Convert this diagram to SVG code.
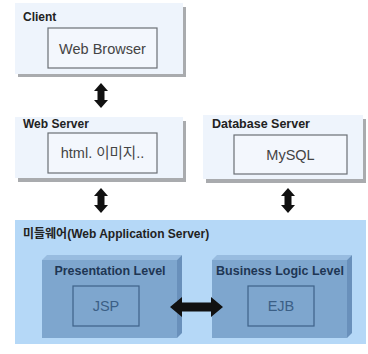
<svg xmlns="http://www.w3.org/2000/svg" width="368" height="354" viewBox="0 0 368 354">
<style>
.bg{fill:#ffffff}
.outer{fill:#eef4fc}
.shadow{fill:#a9abae}
.inner{fill:#f3f7fd;stroke:#6b6f75;stroke-width:1.2}
.lbl{font-family:"Liberation Sans","Noto Sans CJK KR",sans-serif;font-weight:bold;fill:#222;font-size:12px}
.txt{font-family:"Liberation Sans","Noto Sans CJK KR",sans-serif;fill:#444;font-size:14.5px;text-anchor:middle}
.mw{fill:#b5d8f7}
.front{fill:#7ea6ce}
.top{fill:#98bce0}
.side{fill:#6990bb}
.lvl{font-family:"Liberation Sans","Noto Sans CJK KR",sans-serif;font-weight:bold;fill:#1e3654;font-size:12.5px;text-anchor:middle}
.cbox{fill:#7ea6ce;stroke:#3e6289;stroke-width:1.2}
.ctxt{font-family:"Liberation Sans","Noto Sans CJK KR",sans-serif;fill:#3b5f86;font-size:14.5px;text-anchor:middle}
.arr{fill:#111}
</style>
<rect class="bg" x="0" y="0" width="368" height="354"/>
<g id="client">
<rect class="shadow" x="18" y="7" width="168" height="70"/>
<rect class="outer" x="15" y="3" width="168" height="71"/>
<text class="lbl" x="23" y="21">Client</text>
<rect class="inner" x="48" y="28" width="109" height="40"/>
<text class="txt" x="102.5" y="54">Web Browser</text>
</g>
<g id="webserver">
<rect class="shadow" x="18" y="121" width="168" height="61"/>
<rect class="outer" x="15" y="117" width="168" height="61"/>
<text class="lbl" x="23" y="128">Web Server</text>
<rect class="inner" x="48" y="133" width="109" height="40"/>
<text class="txt" x="102.5" y="158">html. 이미지..</text>
</g>
<g id="dbserver">
<rect class="shadow" x="206" y="119" width="160" height="64"/>
<rect class="outer" x="203" y="115" width="160" height="64"/>
<text class="lbl" x="212" y="128" style="font-size:12.5px">Database Server</text>
<rect class="inner" x="234" y="135" width="113" height="39"/>
<text class="txt" x="290.5" y="160">MySQL</text>
</g>
<g id="middleware">
<rect class="mw" x="15" y="220" width="351" height="124"/>
<text class="lbl" x="23" y="238">미들웨어(Web Application Server)</text>
</g>
<g id="presentation">
<polygon class="top" points="42,260 47,255 182,255 177,260"/>
<polygon class="side" points="177,260 182,255 182,333 177,338"/>
<rect class="front" x="42" y="260" width="135" height="78"/>
<text class="lvl" x="110" y="275">Presentation Level</text>
<rect class="cbox" x="73" y="286" width="66" height="40"/>
<text class="ctxt" x="106" y="311">JSP</text>
</g>
<g id="business">
<polygon class="top" points="212,260 217,255 352,255 347,260"/>
<polygon class="side" points="347,260 352,255 352,333 347,338"/>
<rect class="front" x="212" y="260" width="135" height="78"/>
<text class="lvl" x="280" y="275">Business Logic Level</text>
<rect class="cbox" x="248" y="286" width="66" height="40"/>
<text class="ctxt" x="281" y="311">EJB</text>
</g>
<g id="connectors">
<polygon class="arr" points="101,83 108,91 104.5,91 104.5,100 108,100 101,108 94,100 97.5,100 97.5,91 94,91"/>
<polygon class="arr" points="101,188 108,196 104.5,196 104.5,205 108,205 101,213 94,205 97.5,205 97.5,196 94,196"/>
<polygon class="arr" points="288,188 295,196 291.5,196 291.5,205 295,205 288,213 281,205 284.5,205 284.5,196 281,196"/>
<polygon class="arr" points="170,307 182,297 182,302.5 211,302.5 211,297 223,307 211,317 211,311.5 182,311.5 182,317"/>
</g>
</svg>
